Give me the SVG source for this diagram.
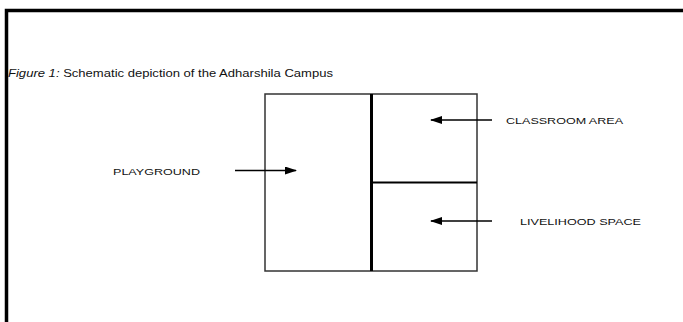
<svg xmlns="http://www.w3.org/2000/svg" width="683" height="322" viewBox="0 0 683 322">
<defs>
<style>
.frame{stroke:#000;stroke-width:3.5;fill:none}
.box{stroke:#333;stroke-width:1.5;fill:#fff}
.div{stroke:#000;stroke-width:3;fill:none}
.hdiv{stroke:#000;stroke-width:2;fill:none}
.arr{stroke:#000;stroke-width:1.3;fill:none;marker-end:url(#ah)}
.lbl{font-family:"Liberation Sans",Arial,sans-serif;font-size:9.5px;fill:#111}
.title{font-family:"Liberation Sans",Arial,sans-serif;font-size:10.5px;fill:#111}
</style>
<marker id="ah" markerWidth="12" markerHeight="8" refX="11" refY="4" orient="auto" markerUnits="userSpaceOnUse">
<path d="M0,0 L12,4 L0,8 Z" fill="#000"/>
</marker>
</defs>
<rect width="683" height="322" fill="#fff"/>
<path class="frame" d="M6.5,322 V10.5 H683"/>
<text class="title" x="8" y="77" textLength="325" lengthAdjust="spacingAndGlyphs"><tspan font-style="italic">Figure 1:</tspan> Schematic depiction of the Adharshila Campus</text>
<g id="campus">
<rect class="box" x="265" y="94" width="212" height="177"/>
</g>
<g id="playground">
<text class="lbl" x="113" y="175" textLength="87" lengthAdjust="spacingAndGlyphs">PLAYGROUND</text>
</g>
<g id="classroom">
<text class="lbl" x="506" y="123.5" textLength="117" lengthAdjust="spacingAndGlyphs">CLASSROOM AREA</text>
</g>
<g id="livelihood">
<text class="lbl" x="520" y="224.5" textLength="121" lengthAdjust="spacingAndGlyphs">LIVELIHOOD SPACE</text>
</g>
<g id="dividers">
<line class="div" x1="371.5" y1="94" x2="371.5" y2="271"/>
<line class="hdiv" x1="372" y1="182.5" x2="477" y2="182.5"/>
</g>
<g id="connectors">
<line class="arr" x1="235" y1="170.5" x2="296" y2="170.5"/>
<line class="arr" x1="492" y1="120" x2="431" y2="120"/>
<line class="arr" x1="492" y1="221" x2="431" y2="221"/>
</g>
</svg>
